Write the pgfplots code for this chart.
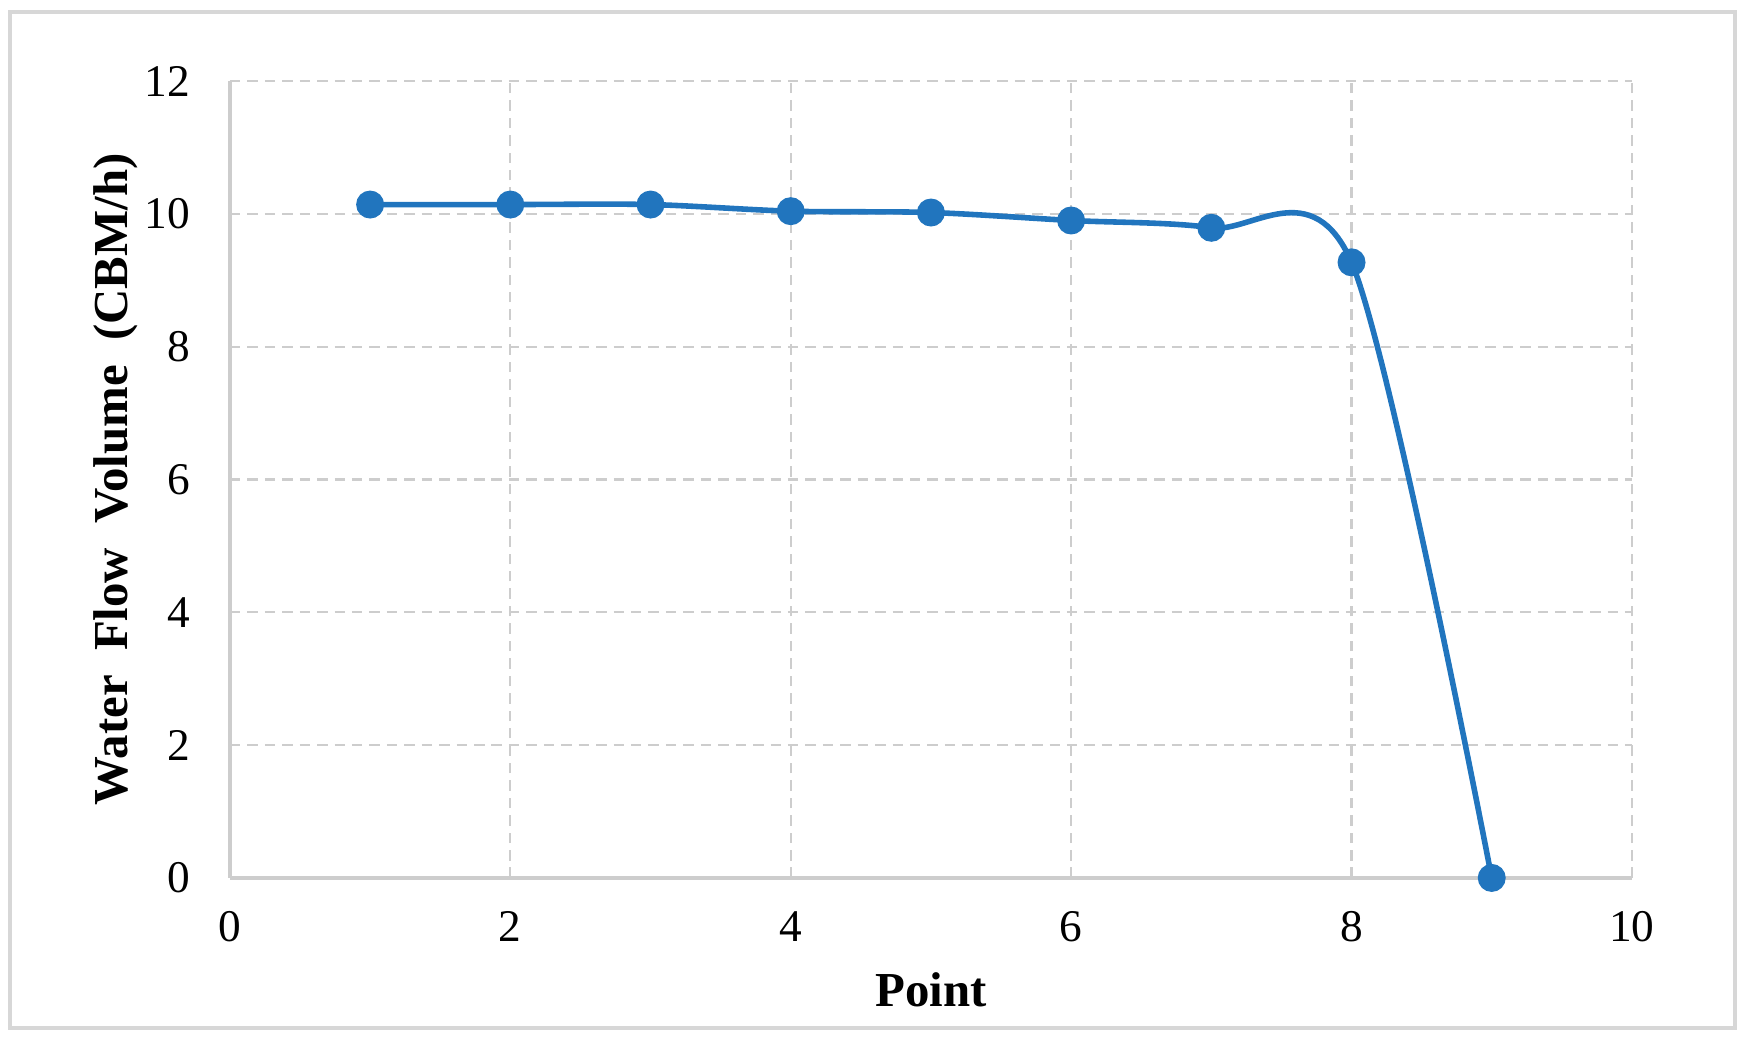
\documentclass[border=0pt]{standalone}
\usepackage{fontspec}
\setmainfont{Liberation Serif}
\usepackage{pgfplots}
\pgfplotsset{compat=1.18}
\definecolor{xlblue}{RGB}{33,117,190}
\definecolor{gridgray}{RGB}{205,205,205}

\begin{document}
\begin{tikzpicture}
\begin{axis}[
  scale only axis,
  width=402pt,
  height=228.5pt,
  xmin=0, xmax=10,
  ymin=0, ymax=12,
  xtick={0,2,...,10},
  ytick={0,2,...,12},
  axis x line=bottom,
  axis y line=left,
  axis line style={-,gridgray,line width=1.2pt},
  major tick length=0pt,
  grid=major,
  grid style={densely dashed,gridgray,line width=0.6pt},
  tick label style={font=\fontsize{13}{15}\selectfont},
  /pgf/number format/assume math mode=true,
  xticklabel style={yshift=-6pt},
  yticklabel style={xshift=-8pt},
  xlabel={\textbf{Point}},
  ylabel={\textbf{Water\ \ Flow\ \ Volume\ \ (CBM/h)}},
  label style={font=\fontsize{14}{16}\selectfont},
  xlabel style={yshift=-2pt},
  ylabel style={yshift=-5pt},
  clip=false,
]
\path (axis cs:-1.64,-2.49) rectangle (axis cs:10.785,13.22);
\draw[gridgray!80,line width=1pt] (axis cs:-1.569,-2.26) rectangle (axis cs:10.735,13.04);
\addplot[xlblue, line width=1.6pt, smooth, tension=0.5, mark=*, mark size=3.2pt,
  mark options={solid,fill=xlblue}]
  coordinates {
    (1,10.14) (2,10.14) (3,10.14) (4,10.04) (5,10.02)
    (6,9.90) (7,9.79) (8,9.27) (9,0)
  };
\end{axis}
\end{tikzpicture}
\end{document}
